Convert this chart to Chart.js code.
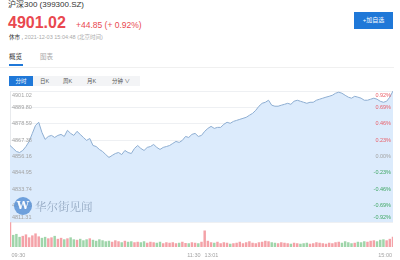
<!DOCTYPE html>
<html>
<head>
<meta charset="utf-8">
<script src="https://cdn.jsdelivr.net/npm/chart.js@4/dist/chart.umd.min.js"></script>
<style>
    body { margin: 0; width: 400px; height: 260px; background: #fff; position: relative; overflow: hidden;
           font-family: "Liberation Sans", "Noto Sans CJK SC", sans-serif; }
    .abs { position: absolute; white-space: nowrap; }
    .title { left: 8px; top: -1px; font-size: 8px; line-height: 12px; color: #333; }
    .last { left: 8px; top: 14px; font-size: 16px; font-weight: bold; line-height: 18px; color: #e9484f; }
    .chg { left: 76px; top: 19px; font-size: 8.5px; line-height: 12px; color: #e9484f; }
    .status { left: 9px; top: 33px; font-size: 5.5px; line-height: 8px; color: #aaa; }
    .status b { color: #333; font-weight: normal; }
    .btn { left: 354px; top: 12px; width: 39px; height: 17px; background: #1f78d8; color: #fff;
           font-size: 6px; line-height: 17px; text-align: center; }
    .tab { top: 53px; font-size: 6.5px; line-height: 8px; }
    .underline { left: 9px; top: 64px; width: 14px; height: 1.5px; background: #1f78d8; }
    .divider { left: 0; top: 67px; width: 394px; height: 1px; background: #f0f0f0; }
    .periods { left: 9px; top: 76px; width: 131px; height: 10px; background: #f3f4f6; }
    .period { top: 76px; font-size: 5.5px; line-height: 10px; color: #555; }
    .active { left: 9px; width: 24px; text-align: center; background: #1f78d8; color: #fff; }
    .mark { left: 0; top: 0; }
    .logo { left: 14px; top: 197px; width: 18px; height: 18px; border-radius: 50%; background: #5b93d6;
            color: #fff; font: bold 11px "DejaVu Serif", serif; line-height: 18px; text-align: center; opacity: 0.85; }
    .wm { left: 35px; top: 199px; font-size: 11.5px; line-height: 14px; color: #8ea3bd;
          font-family: "Noto Serif CJK SC", "Noto Sans CJK SC", serif; opacity: 0.9; }
    #priceChart { position: absolute; left: 0; top: 86px; }
    #volChart { position: absolute; left: 0; top: 222px; }
</style>
</head>
<body>
<div class="abs title">沪深300 (399300.SZ)</div>
<div class="abs last">4901.02</div>
<div class="abs chg">+44.85 (+ 0.92%)</div>
<div class="abs status"><b>休市 ,</b> 2021-12-03 15:04:48 (北京时间)</div>
<div class="abs btn">+加自选</div>
<div class="abs tab" style="left:9px;color:#333">概览</div>
<div class="abs tab" style="left:40px;color:#aaa">图表</div>
<div class="abs underline"></div>
<div class="abs divider"></div>
<div class="abs periods"></div>
<div class="abs period active">分时</div>
<div class="abs period" style="left:40px">日K</div>
<div class="abs period" style="left:63px">周K</div>
<div class="abs period" style="left:87px">月K</div>
<div class="abs period" style="left:112px">分钟 ∨</div>

<canvas id="priceChart" width="400" height="140"></canvas>
<canvas id="volChart" width="400" height="38"></canvas>

<div class="abs logo">W</div>
<div class="abs wm">华尔街见闻</div>

<script>
// minute offsets from 09:30 (0..240, lunch break folded out)
const minutes = [];
for (let m = 0; m <= 240; m += 2) minutes.push(m);

const prices = [
    4863.7, 4861.7, 4859.6, 4858.9, 4860.3, 4863.0, 4866.5, 4872.0, 4877.5, 4879.6,
    4872.7, 4867.9, 4869.9, 4870.6, 4869.2, 4870.6, 4871.3, 4869.9, 4874.1, 4872.0,
    4870.6, 4873.4, 4871.3, 4869.2, 4867.2, 4868.5, 4863.7, 4863.0, 4861.0, 4859.6,
    4857.5, 4855.5, 4856.9, 4858.2, 4858.9, 4857.5, 4860.3, 4858.9, 4858.2, 4861.7,
    4863.7, 4861.7, 4860.3, 4862.4, 4863.0, 4864.4, 4862.4, 4861.0, 4862.4, 4863.0,
    4863.7, 4865.1, 4866.5, 4865.8, 4867.2, 4869.9, 4869.2, 4871.3, 4872.0, 4869.9,
    4870.6, 4873.4, 4875.4, 4876.8, 4875.4, 4876.1, 4876.1, 4878.2, 4879.6, 4878.9,
    4880.2, 4880.9, 4881.6, 4882.3, 4883.0, 4884.4, 4885.7, 4887.8, 4890.6, 4892.6,
    4893.3, 4894.7, 4891.3, 4890.6, 4890.6, 4891.3, 4891.9, 4892.6, 4891.9, 4894.0,
    4894.7, 4894.0, 4893.3, 4892.6, 4893.3, 4893.3, 4894.7, 4895.4, 4896.1, 4896.8,
    4897.4, 4898.1, 4899.5, 4900.2, 4899.5, 4898.1, 4896.8, 4896.1, 4897.4, 4896.8,
    4896.1, 4894.7, 4894.7, 4895.4, 4896.1, 4895.4, 4894.0, 4893.3, 4894.0, 4896.8,
    4901.0
];

const volumes = [
    100,
    48, 52, 40, 44, 50, 38, 46, 54, 42, 36,
    40, 34, 38, 44, 32, 36, 30, 34, 38, 30,
    28, 32, 26, 30, 34, 28, 24, 30, 26, 22,
    24, 20, 26, 22, 18, 24, 20, 22, 18, 20,
    18, 22, 16, 20, 18, 16, 20, 14, 18, 16,
    18, 14, 16, 20, 15, 14, 18, 16, 14, 20,
    66, 24, 18, 16, 20, 14, 18, 16, 12, 14,
    16, 20, 14, 18, 22, 16, 14, 18, 20, 24,
    22, 18, 16, 14, 18, 16, 14, 12, 16, 14,
    12, 14, 16, 12, 14, 18, 16, 14, 12, 16,
    14, 18, 20, 16, 22, 18, 14, 16, 20, 18,
    22, 20, 24, 26, 22, 28, 30, 26, 32, 40
];

const prevClose = 4856.16;
const priceTicks = ['4901.02', '4889.80', '4878.59', '4867.38', '4856.16', '4844.95', '4833.74', '4822.53', '4811.31'];
const pctTicks = ['0.92%', '0.69%', '0.46%', '0.23%', '0.00%', '-0.23%', '-0.46%', '-0.69%', '-0.92%'];
const timeLabels = [
    { m: 0, text: '09:30', align: 'left' },
    { m: 120, text: '11:30', align: 'right' },
    { m: 121, text: '13:01', align: 'left' },
    { m: 240, text: '15:00', align: 'right' }
];

const RED = '#e9606a';
const GREEN = '#3fa764';
const TEXT_GREY = '#a3a3a3';
const LABEL_FONT = '5.5px "Liberation Sans", sans-serif';

/**
 * Price / percent labels drawn inside the plot area
 */
const priceLabels = {
    id: 'priceLabels',
    afterDatasetsDraw(chart) {
        const { ctx, chartArea, scales } = chart;
        ctx.save();
        ctx.font = LABEL_FONT;
        ctx.textBaseline = 'middle';
        priceTicks.forEach((t, i) => {
            let py = scales.y.getPixelForValue(parseFloat(t));
            py = Math.min(Math.max(py, chartArea.top + 4.5), chartArea.bottom - 5);
            ctx.textAlign = 'left';
            ctx.fillStyle = TEXT_GREY;
            ctx.fillText(t, chartArea.left + 2, py);
            const v = parseFloat(pctTicks[i]);
            ctx.textAlign = 'right';
            ctx.fillStyle = v > 0 ? RED : (v < 0 ? GREEN : TEXT_GREY);
            ctx.fillText(pctTicks[i], chartArea.right - 2, py);
        });
        ctx.restore();
    }
};

/**
 * Time labels under the volume bars
 */
const timeAxisLabels = {
    id: 'timeAxisLabels',
    afterDraw(chart) {
        const { ctx, chartArea, scales } = chart;
        ctx.save();
        ctx.font = LABEL_FONT;
        ctx.fillStyle = TEXT_GREY;
        ctx.textBaseline = 'middle';
        timeLabels.forEach(l => {
            const px = scales.x.getPixelForValue(l.m);
            ctx.textAlign = l.align;
            ctx.fillText(l.text, px + (l.align === 'left' ? 1.5 : -1), chartArea.bottom + 8);
        });
        ctx.restore();
    }
};

function renderPriceChart() {
    const ctx = document.getElementById('priceChart');
    new Chart(ctx, {
        type: 'line',
        data: {
            datasets: [{
                data: minutes.map((m, i) => ({ x: m, y: prices[i] })),
                borderColor: '#8eaed2',
                borderWidth: 1,
                backgroundColor: '#dcebfc',
                fill: 'start',
                pointRadius: 0,
                tension: 0
            }]
        },
        options: {
            responsive: false,
            animation: false,
            layout: { padding: { left: 10, right: 7, top: 5, bottom: 4 } },
            plugins: { legend: { display: false }, tooltip: { enabled: false } },
            scales: {
                x: { type: 'linear', min: 0, max: 240, display: false },
                y: {
                    min: parseFloat(priceTicks[priceTicks.length - 1]),
                    max: parseFloat(priceTicks[0]),
                    afterBuildTicks: scale => {
                        scale.ticks = priceTicks.map(t => ({ value: parseFloat(t) }));
                    },
                    afterFit: scale => { scale.width = 0; },
                    ticks: { display: false },
                    grid: { color: '#eef0f3', drawTicks: false },
                    border: { display: true, color: '#e8eaed' }
                }
            }
        },
        plugins: [priceLabels]
    });
}

function renderVolumeChart() {
    const ctx = document.getElementById('volChart');
    const colors = prices.map((p, i) => {
        const prev = i === 0 ? prevClose : prices[i - 1];
        return p >= prev ? '#f4a2a8' : '#9fd5aa';
    });
    new Chart(ctx, {
        type: 'bar',
        data: {
            datasets: [{
                data: minutes.map((m, i) => ({ x: m, y: volumes[i] })),
                backgroundColor: colors,
                barThickness: 1.8,
                borderWidth: 0
            }]
        },
        options: {
            responsive: false,
            animation: false,
            layout: { padding: { left: 10, right: 7, top: 0, bottom: 13 } },
            plugins: { legend: { display: false }, tooltip: { enabled: false } },
            scales: {
                x: { type: 'linear', min: 0, max: 240, display: false, offset: false },
                y: { min: 0, max: 102, display: false }
            }
        },
        plugins: [timeAxisLabels]
    });
}

renderPriceChart();
renderVolumeChart();
</script>
</body>
</html>
